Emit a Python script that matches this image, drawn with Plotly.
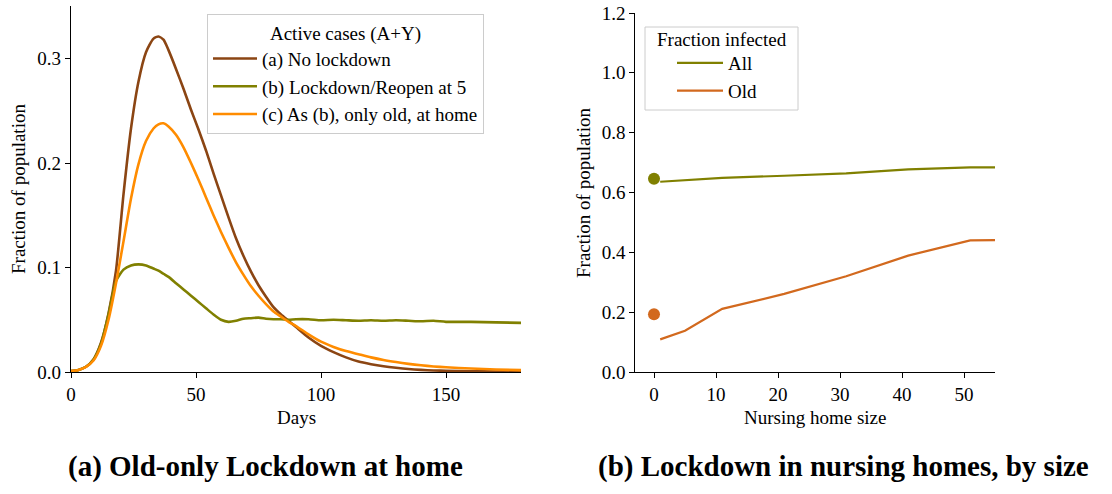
import plotly.graph_objects as go

# ---------------- data: left panel (active cases) ----------------
days = [0, 3, 6, 9, 12, 15, 18, 21, 24, 27, 30, 33, 35, 37, 39, 42, 45, 48, 51, 54, 57,
        60, 63, 66, 69, 72, 75, 78, 81, 84, 87, 90, 95, 100, 105, 110, 115, 120, 125,
        130, 135, 140, 145, 150, 160, 170, 180]
no_lockdown = [0.001, 0.002, 0.005, 0.012, 0.028, 0.056, 0.097, 0.170, 0.233, 0.278,
               0.306, 0.319, 0.321, 0.318, 0.308, 0.290, 0.271, 0.251, 0.232, 0.212, 0.190,
               0.169, 0.148, 0.128, 0.111, 0.096, 0.083, 0.072, 0.062, 0.055, 0.049,
               0.043, 0.033, 0.025, 0.019, 0.014, 0.010, 0.0075, 0.0055, 0.004, 0.0028,
               0.002, 0.0015, 0.0011, 0.0007, 0.0005, 0.0004]
lockdown_reopen = [0.001, 0.002, 0.005, 0.012, 0.027, 0.055, 0.087, 0.098, 0.102, 0.103,
                   0.102, 0.099, 0.097, 0.094, 0.091, 0.085, 0.079, 0.073, 0.067, 0.061, 0.055,
                   0.050, 0.048, 0.049, 0.051, 0.0515, 0.052, 0.051, 0.0505, 0.0505, 0.050,
                   0.0505, 0.0505, 0.0495, 0.050, 0.0495, 0.049, 0.0495, 0.049, 0.0495, 0.049,
                   0.0485, 0.049, 0.048, 0.048, 0.0475, 0.047]
old_at_home = [0.001, 0.002, 0.005, 0.011, 0.025, 0.050, 0.085, 0.125, 0.166, 0.199,
               0.221, 0.233, 0.237, 0.238, 0.235, 0.227, 0.215, 0.200, 0.184, 0.167, 0.150,
               0.134, 0.119, 0.105, 0.093, 0.082, 0.073, 0.065, 0.058, 0.053, 0.048,
               0.044, 0.036, 0.029, 0.024, 0.020, 0.017, 0.014, 0.0115, 0.0095, 0.0078,
               0.0064, 0.0053, 0.0045, 0.0033, 0.0024, 0.0018]

# ---------------- data: right panel (nursing homes) ----------------
nh_size = [1, 5, 11, 21, 31, 41, 51, 55]
frac_all = [0.636, 0.641, 0.649, 0.656, 0.664, 0.677, 0.684, 0.684]
frac_old = [0.109, 0.138, 0.211, 0.261, 0.320, 0.389, 0.440, 0.441]
base_size = [0]
base_all = [0.646]
base_old = [0.193]

left_xticks = [0, 50, 100, 150]
left_yticks = [0.0, 0.1, 0.2, 0.3]
right_xticks = [0, 10, 20, 30, 40, 50]
right_yticks = [0.0, 0.2, 0.4, 0.6, 0.8, 1.0, 1.2]

# ---------------- layout helpers ----------------
W, H = 1112, 494
def px(x):
    return x / W
def py(y):
    return 1 - y / H

FONT = "Liberation Serif"
BLACK = "#000000"
C_BROWN = "#8B4513"
C_OLIVE = "#808000"
C_ORANGE = "#FF8C00"
C_CHOC = "#D2691E"

fig = go.Figure()

fig.add_trace(go.Scatter(x=days, y=no_lockdown, mode="lines", name="(a) No lockdown",
                         line=dict(color=C_BROWN, width=2.6, shape="spline", smoothing=0.6),
                         xaxis="x", yaxis="y", legend="legend", legendgroup="a"))
fig.add_trace(go.Scatter(x=days, y=lockdown_reopen, mode="lines", name="(b) Lockdown/Reopen at 5",
                         line=dict(color=C_OLIVE, width=2.6, shape="spline", smoothing=0.6),
                         xaxis="x", yaxis="y", legend="legend", legendgroup="b"))
fig.add_trace(go.Scatter(x=days, y=old_at_home, mode="lines", name="(c) As (b), only old, at home",
                         line=dict(color=C_ORANGE, width=2.6, shape="spline", smoothing=0.6),
                         xaxis="x", yaxis="y", legend="legend", legendgroup="c"))

fig.add_trace(go.Scatter(x=nh_size, y=frac_all, mode="lines", name="All",
                         line=dict(color=C_OLIVE, width=2.2),
                         xaxis="x2", yaxis="y2", legend="legend2", legendgroup="all"))
fig.add_trace(go.Scatter(x=nh_size, y=frac_old, mode="lines", name="Old",
                         line=dict(color=C_CHOC, width=2.2),
                         xaxis="x2", yaxis="y2", legend="legend2", legendgroup="old"))
fig.add_trace(go.Scatter(x=base_size, y=base_all, mode="markers", showlegend=False,
                         marker=dict(color=C_OLIVE, size=12),
                         xaxis="x2", yaxis="y2"))
fig.add_trace(go.Scatter(x=base_size, y=base_old, mode="markers", showlegend=False,
                         marker=dict(color=C_CHOC, size=12),
                         xaxis="x2", yaxis="y2"))

axis_common = dict(showgrid=False, zeroline=False, showline=True, linecolor=BLACK,
                   linewidth=1.2, ticks="outside", ticklen=5, tickwidth=1.2,
                   tickcolor=BLACK, automargin=False,
                   tickfont=dict(family=FONT, size=19, color=BLACK))

fig.update_layout(
    width=W, height=H,
    margin=dict(l=0, r=0, t=0, b=0, autoexpand=False),
    paper_bgcolor="white", plot_bgcolor="white",
    font=dict(family=FONT, size=19, color=BLACK),
    xaxis=dict(domain=[px(71), px(521)], range=[0, 180], anchor="y",
               tickvals=left_xticks, ticktext=[str(v) for v in left_xticks], **axis_common),
    yaxis=dict(domain=[py(372), py(6.25)], range=[0, 0.35], anchor="x",
               tickvals=left_yticks, ticktext=[f"{v:.1f}" for v in left_yticks], **axis_common),
    xaxis2=dict(domain=[px(635.4), px(995)], range=[-3, 55], anchor="y2",
                tickvals=right_xticks, ticktext=[str(v) for v in right_xticks], **axis_common),
    yaxis2=dict(domain=[py(372), py(13)], range=[0, 1.2], anchor="x2",
                tickvals=right_yticks, ticktext=[f"{v:.1f}" for v in right_yticks], **axis_common),
    legend=dict(x=px(207), y=py(14), xanchor="left", yanchor="top",
                bgcolor="rgba(255,255,255,0.85)", bordercolor="#cccccc", borderwidth=1,
                font=dict(family=FONT, size=19, color=BLACK),
                title=dict(text="Active cases (A+Y)", side="top center",
                           font=dict(family=FONT, size=19, color=BLACK)),
                tracegroupgap=0, itemwidth=44),
    legend2=dict(x=px(672), y=py(44), xanchor="left", yanchor="top",
                 bgcolor="rgba(0,0,0,0)", borderwidth=0,
                 font=dict(family=FONT, size=19, color=BLACK),
                 tracegroupgap=0, itemwidth=46),
    shapes=[
        dict(type="rect", xref="paper", yref="paper", x0=px(645), x1=px(798),
             y0=py(110), y1=py(27), line=dict(color="#cccccc", width=1),
             fillcolor="rgba(255,255,255,0.85)", layer="below"),
    ],
    annotations=[
        dict(text="Fraction infected", x=px(721.5), y=py(39), xref="paper", yref="paper",
             showarrow=False, font=dict(family=FONT, size=19, color=BLACK),
             xanchor="center", yanchor="middle"),
        dict(text="Fraction of population", x=px(18), y=py(189), xref="paper", yref="paper",
             textangle=-90, showarrow=False, font=dict(family=FONT, size=19, color=BLACK),
             xanchor="center", yanchor="middle"),
        dict(text="Days", x=px(296), y=py(417), xref="paper", yref="paper",
             showarrow=False, font=dict(family=FONT, size=19, color=BLACK),
             xanchor="center", yanchor="middle"),
        dict(text="Fraction of population", x=px(584), y=py(193), xref="paper", yref="paper",
             textangle=-90, showarrow=False, font=dict(family=FONT, size=19, color=BLACK),
             xanchor="center", yanchor="middle"),
        dict(text="Nursing home size", x=px(815), y=py(417), xref="paper", yref="paper",
             showarrow=False, font=dict(family=FONT, size=19, color=BLACK),
             xanchor="center", yanchor="middle"),
        dict(text="<b>(a) Old-only Lockdown at home</b>", x=px(265), y=py(466), xref="paper",
             yref="paper", showarrow=False, font=dict(family=FONT, size=29, color=BLACK),
             xanchor="center", yanchor="middle"),
        dict(text="<b>(b) Lockdown in nursing homes, by size</b>", x=px(843), y=py(466),
             xref="paper", yref="paper", showarrow=False,
             font=dict(family=FONT, size=29, color=BLACK),
             xanchor="center", yanchor="middle"),
    ],
)

fig.write_html("out.html")
